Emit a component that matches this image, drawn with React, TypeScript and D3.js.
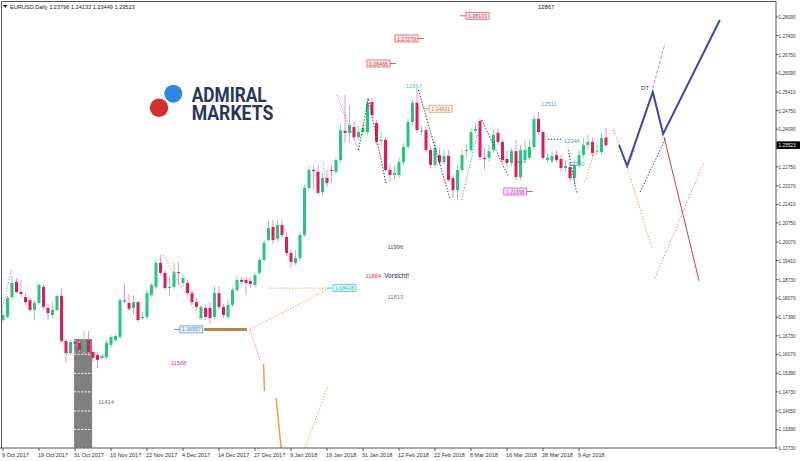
import React from 'react';
import * as d3 from 'd3';

// ---- data ----
const xTickLabels = ["9 Oct 2017","19 Oct 2017","31 Oct 2017","10 Nov 2017","22 Nov 2017","4 Dec 2017","14 Dec 2017","27 Dec 2017","9 Jan 2018","19 Jan 2018","31 Jan 2018","12 Feb 2018","22 Feb 2018","6 Mar 2018","16 Mar 2018","28 Mar 2018","9 Apr 2018"];
const barsPerTick = 8;

const yTickLabels = ["1.28090","1.27430","1.26750","1.26090","1.25410","1.24750","1.24090","1.23410","1.22750","1.22070","1.21410","1.20750","1.20070","1.19410","1.18730","1.18070","1.17390","1.16730","1.16070","1.15390","1.14730","1.14050","1.13390","1.12730"];

const symbol = "EURUSD,Daily";
const lastOHLC = ["1.23796", "1.24133", "1.23449", "1.23523"];
const lastPrice = 1.23523;

// [open, high, low, close]
const candles: [number, number, number, number][] = [
[1.1729,1.1765,1.1722,1.1747],[1.1740,1.1815,1.1736,1.1808],[1.1811,1.1886,1.1800,1.1861],[1.1865,1.1879,1.1822,1.1829],
[1.1829,1.1872,1.1811,1.1822],[1.1811,1.1829,1.1783,1.1793],[1.1800,1.1811,1.1758,1.1765],[1.1765,1.1800,1.1729,1.1790],
[1.1790,1.1861,1.1783,1.1854],[1.1847,1.1854,1.1765,1.1776],[1.1772,1.1786,1.1729,1.1754],[1.1747,1.1793,1.1736,1.1765],
[1.1765,1.1818,1.1758,1.1815],[1.1815,1.1840,1.1647,1.1654],[1.1654,1.1661,1.1576,1.1611],[1.1611,1.1658,1.1601,1.1651],
[1.1651,1.1658,1.1636,1.1645],[1.1647,1.1654,1.1615,1.1622],[1.1615,1.1690,1.1608,1.1658],[1.1658,1.1690,1.1601,1.1615],
[1.1615,1.1622,1.1580,1.1594],[1.1604,1.1615,1.1558,1.1587],[1.1594,1.1608,1.1587,1.1601],[1.1597,1.1658,1.1590,1.1647],
[1.1640,1.1676,1.1629,1.1669],[1.1658,1.1679,1.1651,1.1672],[1.1669,1.1808,1.1661,1.1800],[1.1799,1.1861,1.1790,1.1796],
[1.1790,1.1822,1.1761,1.1769],[1.1772,1.1818,1.1747,1.1793],[1.1793,1.1800,1.1722,1.1729],[1.1736,1.1758,1.1729,1.1740],
[1.1740,1.1836,1.1733,1.1825],[1.1818,1.1861,1.1811,1.1854],[1.1847,1.1947,1.1840,1.1933],[1.1933,1.1961,1.1890,1.1897],
[1.1897,1.1907,1.1836,1.1843],[1.1843,1.1882,1.1818,1.1847],[1.1847,1.1936,1.1840,1.1900],[1.1900,1.1936,1.1854,1.1897],
[1.1861,1.1890,1.1847,1.1879],[1.1861,1.1872,1.1818,1.1825],[1.1825,1.1836,1.1783,1.1793],[1.1793,1.1808,1.1765,1.1776],
[1.1736,1.1783,1.1729,1.1776],[1.1772,1.1783,1.1729,1.1740],[1.1772,1.1793,1.1715,1.1736],[1.1740,1.1850,1.1733,1.1825],
[1.1825,1.1850,1.1765,1.1776],[1.1776,1.1786,1.1736,1.1747],[1.1740,1.1800,1.1733,1.1783],[1.1783,1.1847,1.1776,1.1836],
[1.1836,1.1886,1.1829,1.1872],[1.1872,1.1882,1.1858,1.1865],[1.1872,1.1882,1.1818,1.1861],[1.1868,1.1879,1.1843,1.1858],
[1.1854,1.1900,1.1847,1.1889],[1.1897,1.1950,1.1889,1.1943],[1.1943,1.2014,1.1936,1.2004],[1.2014,1.2086,1.2007,1.2057],
[1.2061,1.2086,1.2000,1.2014],[1.2018,1.2086,1.2007,1.2068],[1.2068,1.2086,1.2021,1.2032],[1.2025,1.2043,1.1957,1.1968],
[1.1968,1.1979,1.1915,1.1936],[1.1932,1.1979,1.1925,1.1950],[1.1950,1.2043,1.1943,1.2032],[1.2032,1.2210,1.2025,1.2200],
[1.2200,1.2278,1.2192,1.2264],[1.2264,1.2282,1.2192,1.2260],[1.2257,1.2282,1.2175,1.2182],[1.2185,1.2253,1.2171,1.2235],
[1.2235,1.2264,1.2207,1.2217],[1.2264,1.2282,1.2217,1.2260],[1.2257,1.2310,1.2250,1.2299],[1.2299,1.2424,1.2292,1.2406],
[1.2403,1.2531,1.2360,1.2396],[1.2396,1.2495,1.2363,1.2424],[1.2417,1.2435,1.2371,1.2381],[1.2381,1.2421,1.2371,1.2399],
[1.2399,1.2428,1.2389,1.2414],[1.2399,1.2520,1.2389,1.2503],[1.2506,1.2520,1.2449,1.2460],[1.2431,1.2442,1.2353,1.2364],
[1.2367,1.2399,1.2349,1.2371],[1.2371,1.2381,1.2257,1.2264],[1.2264,1.2282,1.2221,1.2246],[1.2246,1.2282,1.2228,1.2253],
[1.2246,1.2307,1.2235,1.2292],[1.2292,1.2360,1.2282,1.2346],[1.2346,1.2449,1.2335,1.2435],[1.2435,1.2513,1.2424,1.2503],
[1.2503,1.2556,1.2396,1.2406],[1.2401,1.2421,1.2389,1.2404],[1.2406,1.2417,1.2328,1.2335],[1.2335,1.2346,1.2271,1.2282],
[1.2282,1.2371,1.2271,1.2342],[1.2317,1.2342,1.2282,1.2292],[1.2292,1.2335,1.2282,1.2314],[1.2314,1.2335,1.2221,1.2228],
[1.2235,1.2246,1.2164,1.2192],[1.2192,1.2282,1.2157,1.2264],[1.2264,1.2335,1.2257,1.2317],[1.2331,1.2353,1.2307,1.2335],
[1.2335,1.2414,1.2328,1.2399],[1.2403,1.2431,1.2396,1.2410],[1.2438,1.2449,1.2299,1.2310],[1.2307,1.2342,1.2264,1.2303],
[1.2307,1.2353,1.2292,1.2331],[1.2335,1.2406,1.2324,1.2389],[1.2396,1.2414,1.2353,1.2364],[1.2364,1.2371,1.2292,1.2299],
[1.2303,1.2335,1.2278,1.2289],[1.2289,1.2342,1.2278,1.2331],[1.2331,1.2371,1.2228,1.2239],[1.2239,1.2353,1.2228,1.2335],
[1.2299,1.2371,1.2289,1.2335],[1.2307,1.2371,1.2299,1.2346],[1.2346,1.2460,1.2335,1.2446],[1.2446,1.2470,1.2389,1.2399],
[1.2399,1.2406,1.2299,1.2307],[1.2299,1.2324,1.2289,1.2307],[1.2296,1.2328,1.2289,1.2314],[1.2317,1.2335,1.2289,1.2299],
[1.2303,1.2317,1.2257,1.2271],[1.2271,1.2299,1.2257,1.2278],[1.2274,1.2289,1.2221,1.2235],[1.2235,1.2299,1.2210,1.2282],
[1.2282,1.2335,1.2271,1.2317],[1.2317,1.2378,1.2307,1.2353],[1.2353,1.2389,1.2335,1.2364],[1.2364,1.2378,1.2310,1.2324],
[1.2328,1.2353,1.2317,1.2331],[1.2328,1.2396,1.2317,1.2378],[1.23796,1.24133,1.23449,1.23523]
];

// drawn objects in (bar index, price)
type Pt = [number, number];
const lineObjects: { pts: Pt[]; kind: string }[] = [
  { pts: [[-0.7, 1.17363], [1.9, 1.19074]], kind: 'pinkDot' },
  { pts: [[35.6, 1.19608], [43.8, 1.17292]], kind: 'orangeDot' },
  { pts: [[44.7, 1.16957], [54.2, 1.16957]], kind: 'tanThick' },
  { pts: [[54.9, 1.16957], [72.7, 1.18428]], kind: 'orangeDot' },
  { pts: [[58.9, 1.18428], [72.2, 1.18428]], kind: 'orangeDot' },
  { pts: [[54.9, 1.16936], [57.1, 1.15866]], kind: 'pinkDot' },
  { pts: [[57.9, 1.15724], [58.1, 1.14762]], kind: 'orangeSolid' },
  { pts: [[60.7, 1.14512], [61.8, 1.12730]], kind: 'orangeSolid' },
  { pts: [[67.1, 1.12730], [72.2, 1.14940]], kind: 'orangeDot' },
  { pts: [[74.2, 1.25310], [79.0, 1.23350]], kind: 'pinkDot' },
  { pts: [[79.0, 1.23350], [81.2, 1.25193], [85.1, 1.22164]], kind: 'blackDot' },
  { pts: [[71.1, 1.22923], [72.0, 1.22032]], kind: 'greenDot' },
  { pts: [[92.3, 1.25488], [99.3, 1.21629]], kind: 'blackDot' },
  { pts: [[101.9, 1.21568], [106.2, 1.24420]], kind: 'blueDot' },
  { pts: [[106.4, 1.24420], [112.3, 1.22399]], kind: 'blackDot' },
  { pts: [[121.1, 1.23732], [124.4, 1.23732]], kind: 'blackDot' },
  { pts: [[125.6, 1.23350], [127.5, 1.21807]], kind: 'blackDot' },
  { pts: [[114.4, 1.22923], [116.4, 1.22923]], kind: 'blackDot' },
  { pts: [[129.3, 1.22210], [132.2, 1.23671]], kind: 'orangeDot' },
  { pts: [[135.6, 1.24063], [137.1, 1.23528]], kind: 'pinkDot' },
  { pts: [[139.1, 1.22887], [140.7, 1.23493]], kind: 'pinkDot' },
  { pts: [[141.6, 1.21854], [147.3, 1.23778]], kind: 'blackDot' },
  { pts: [[138.7, 1.22744], [144.2, 1.19858]], kind: 'orangeDot' },
  { pts: [[146.9, 1.23814], [154.7, 1.18682]], kind: 'redSolid' },
  { pts: [[144.9, 1.18789], [155.8, 1.22923]], kind: 'pinkDot' },
  { pts: [[144.4, 1.25560], [147.1, 1.27128]], kind: 'pinkDash' },
  { pts: [[136.9, 1.23528], [138.7, 1.22780], [144.4, 1.25417], [146.7, 1.23921], [159.3, 1.27983]], kind: 'bluePath' },
];

const priceBoxes = [
  { text: "1.28133", i: 102.9, p: 1.28133, side: 'start', lead: 'left', kind: 'red' },
  { text: "1.27279", i: 92.2, p: 1.27324, side: 'end', lead: 'right', kind: 'red' },
  { text: "1.26466", i: 86.0, p: 1.26433, side: 'end', lead: 'right', kind: 'red' },
  { text: "1.24821", i: 94.7, p: 1.24821, side: 'start', lead: 'left', kind: 'orange' },
  { text: "1.21696", i: 116.4, p: 1.21870, side: 'end', lead: 'right', kind: 'magenta' },
  { text: "1.18428", i: 73.3, p: 1.18428, side: 'start', lead: 'left', kind: 'cyan' },
  { text: "1.16957", i: 44.4, p: 1.16957, side: 'end', lead: 'left', kind: 'blue' },
];

const textLabels = [
  { text: "12867", i: 120.7, p: 1.28375, kind: 'black', anchor: 'middle' },
  { text: "12567", i: 91.3, p: 1.25560, kind: 'cyan', anchor: 'middle' },
  { text: "12511", i: 121.3, p: 1.24918, kind: 'blue', anchor: 'middle' },
  { text: "12346", i: 126.4, p: 1.23600, kind: 'blue', anchor: 'middle' },
  { text: "12330", i: 127.4, p: 1.22780, kind: 'blue', anchor: 'middle' },
  { text: "11996", i: 87.2, p: 1.19822, kind: 'gray', anchor: 'middle' },
  { text: "11864", i: 82.3, p: 1.18789, kind: 'red', anchor: 'middle' },
  { text: "11813", i: 87.2, p: 1.18040, kind: 'slate', anchor: 'middle' },
  { text: "11414", i: 22.9, p: 1.14298, kind: 'green', anchor: 'middle' },
  { text: "11568", i: 39.0, p: 1.15688, kind: 'magenta', anchor: 'middle' },
  { text: "DT", i: 142.7, p: 1.25488, kind: 'navy', anchor: 'middle' },
];
const warnLabel = { text: "Vorsicht!", i: 84.7, p: 1.18789 };

const grayZone = { i0: 15.8, i1: 19.8, top: 1.16615 };

// ---- styles ----
const FONT = "'Liberation Sans', Arial, sans-serif";
const lineStyles: Record<string, { stroke: string; width: number; dash?: string }> = {
  pinkDot: { stroke: '#d867d8', width: 1, dash: '1.3 1.7' },
  orangeDot: { stroke: '#e69a4c', width: 1, dash: '1.3 1.7' },
  blackDot: { stroke: '#303030', width: 1, dash: '1.3 1.7' },
  greenDot: { stroke: '#7ccf6a', width: 1, dash: '1.3 1.7' },
  blueDot: { stroke: '#4a9ad8', width: 1, dash: '1.3 1.7' },
  pinkDash: { stroke: '#d867d8', width: 1, dash: '3 2' },
  orangeSolid: { stroke: '#e8a040', width: 1.5 },
  redSolid: { stroke: '#c8403a', width: 1 },
  tanThick: { stroke: '#b9844a', width: 3 },
  bluePath: { stroke: '#3c44b4', width: 2 },
};
const boxStyles: Record<string, { stroke: string; fill: string; text: string }> = {
  red: { stroke: '#e05a5a', fill: '#fdecec', text: '#d03a3a' },
  orange: { stroke: '#d8a070', fill: '#fff6ee', text: '#c8803a' },
  magenta: { stroke: '#d050d0', fill: '#fbe6fb', text: '#c040c0' },
  cyan: { stroke: '#40d0e0', fill: '#e8fbfd', text: '#30b8d0' },
  blue: { stroke: '#5a9ae0', fill: '#eaf3fd', text: '#4a88d0' },
};
const textColors: Record<string, string> = {
  black: '#222', cyan: '#5cc8c8', blue: '#5b9bd8', gray: '#4a5a4a', red: '#e03030',
  slate: '#6a7ab8', green: '#3a8a3a', magenta: '#d040d0', navy: '#2a2a80',
};

export default function App() {
  const left = 1.5, right = 776, top = 1.5, bottom = 448;
  const x = d3.scaleLinear().domain([0, candles.length - 1]).range([3, 606]);
  const y = d3.scaleLinear().domain([1.12730, 1.28090]).range([448, 17]);
  const line = d3.line<Pt>().x(d => x(d[0])).y(d => y(d[1]));
  const bodyW = 3;
  const boxW = 23, boxH = 7;
  const priceY = y(lastPrice);

  return (
    <svg width={800} height={461} style={{ position: 'fixed', left: 0, top: 0, display: 'block', background: '#fff' }}>
      <defs>
        <clipPath id="plot"><rect x={left} y={top} width={right - left} height={bottom - top} /></clipPath>
      </defs>

      {/* header */}
      <path d="M3,5 L7.5,5 L5.25,8 Z" fill="#222" />
      <text x={10} y={9} fontFamily={FONT} fontSize={5.6} fill="#222">
        {symbol + "  " + lastOHLC.join(" ")}
      </text>

      {/* logo */}
      <circle cx={173.3} cy={93.7} r={9} fill="#2f88e6" />
      <circle cx={159} cy={107.7} r={9.2} fill="#d42e2e" />
      <text x={191.7} y={101.5} fontFamily="Roboto, 'Liberation Sans', sans-serif" fontWeight={700} fontSize={20} fill="#263562" textLength={75} lengthAdjust="spacingAndGlyphs">ADMIRAL</text>
      <text x={191.7} y={120} fontFamily="Roboto, 'Liberation Sans', sans-serif" fontWeight={700} fontSize={20} fill="#263562" textLength={81.6} lengthAdjust="spacingAndGlyphs">MARKETS</text>

      <g clipPath="url(#plot)">
        {/* gray zone */}
        <rect x={x(grayZone.i0)} y={y(grayZone.top)} width={x(grayZone.i1) - x(grayZone.i0)} height={bottom - y(grayZone.top)} fill="#808080" />
        {yTickLabels.filter(t => y(+t) > y(grayZone.top)).map(t => (
          <line key={t} x1={x(grayZone.i0)} x2={x(grayZone.i1)} y1={y(+t)} y2={y(+t)} stroke="#fff" strokeWidth={1} strokeDasharray="2 1.5" />
        ))}

        {/* candles */}
        {candles.map((c, i) => {
          const [o, h, l, cl] = c;
          const up = cl >= o;
          const yTop = y(Math.max(o, cl));
          const yBot = y(Math.min(o, cl));
          return (
            <g key={i}>
              <line x1={x(i)} x2={x(i)} y1={y(h)} y2={y(l)} stroke={up ? '#8fdc86' : '#ef8fe8'} strokeWidth={1} />
              <rect x={x(i) - bodyW / 2} y={yTop} width={bodyW} height={Math.max(1, yBot - yTop)} fill={up ? '#22c786' : '#e6175c'} />
            </g>
          );
        })}

        {/* drawn lines */}
        {lineObjects.map((o, k) => {
          const s = lineStyles[o.kind];
          return <path key={k} d={line(o.pts) || ''} fill="none" stroke={s.stroke} strokeWidth={s.width} strokeDasharray={s.dash} />;
        })}

        {/* price boxes */}
        {priceBoxes.map((b, k) => {
          const s = boxStyles[b.kind];
          const bx = b.side === 'start' ? x(b.i) : x(b.i) - boxW;
          const by = y(b.p);
          const lx1 = b.lead === 'left' ? bx - 6 : bx + boxW;
          return (
            <g key={k}>
              <line x1={lx1} x2={lx1 + 6} y1={by} y2={by} stroke={s.stroke} strokeWidth={1} />
              <rect x={bx} y={by - boxH / 2} width={boxW} height={boxH} fill={s.fill} stroke={s.stroke} strokeWidth={0.8} />
              <text x={bx + boxW / 2} y={by + 2.1} textAnchor="middle" fontFamily={FONT} fontSize={5.6} fill={s.text} textLength={19} lengthAdjust="spacingAndGlyphs">{b.text}</text>
            </g>
          );
        })}

        {/* text labels */}
        {textLabels.map((t, k) => (
          <text key={k} x={x(t.i)} y={y(t.p)} textAnchor={t.anchor as any} fontFamily={FONT} fontSize={5.8} fill={textColors[t.kind]}>{t.text}</text>
        ))}
        <text x={x(warnLabel.i)} y={y(warnLabel.p)} fontFamily={FONT} fontSize={6.5} fill="#24246e">{warnLabel.text}</text>
      </g>

      {/* frame */}
      <line x1={left} x2={right} y1={top} y2={top} stroke="#555" strokeWidth={1} />
      <line x1={left} x2={left} y1={top} y2={bottom} stroke="#555" strokeWidth={1} />
      <line x1={right} x2={right} y1={top} y2={bottom + 0.5} stroke="#555" strokeWidth={1} />
      <line x1={0} x2={right} y1={bottom} y2={bottom} stroke="#555" strokeWidth={1} />

      {/* y axis (the tick label hidden behind the current-price box is not drawn) */}
      {yTickLabels.map(t => (
        <g key={t}>
          <line x1={right} x2={right + 2.5} y1={y(+t)} y2={y(+t)} stroke="#555" strokeWidth={1} />
          {Math.abs(y(+t) - priceY) > 6 && (
            <text x={778.5} y={y(+t) + 2} fontFamily={FONT} fontSize={5.5} fill="#333" textLength={17} lengthAdjust="spacingAndGlyphs">{t}</text>
          )}
        </g>
      ))}
      <rect x={776.5} y={priceY - 3.8} width={23.5} height={7.6} fill="#000" />
      <text x={778.5} y={priceY + 2} fontFamily={FONT} fontSize={5.5} fill="#fff" textLength={17} lengthAdjust="spacingAndGlyphs">{lastPrice.toFixed(5)}</text>

      {/* x axis */}
      {xTickLabels.map((t, k) => {
        const tx = x(k * barsPerTick);
        return (
          <g key={t}>
            <line x1={tx} x2={tx} y1={bottom} y2={bottom + 3} stroke="#555" strokeWidth={1} />
            <text x={tx - 1} y={457} fontFamily={FONT} fontSize={5.5} fill="#333">{t}</text>
          </g>
        );
      })}
    </svg>
  );
}
